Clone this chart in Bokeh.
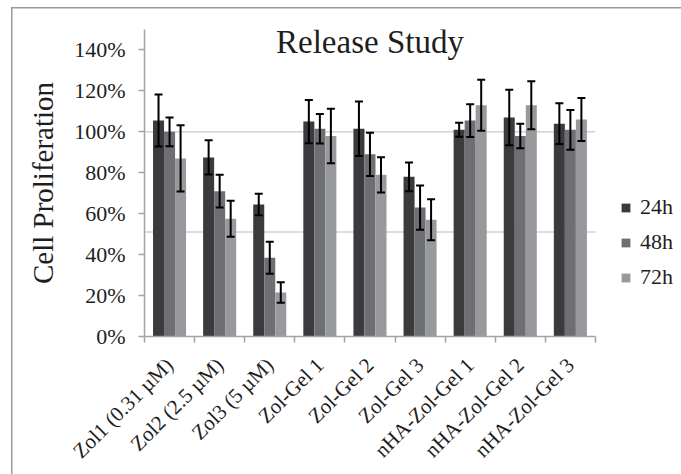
from bokeh.plotting import figure
from bokeh.models import (ColumnDataSource, Range1d, FixedTicker, PrintfTickFormatter,
                          Whisker, TeeHead, Legend, LegendItem, Label)
from bokeh.embed import file_html
from bokeh.resources import INLINE

# ---- data -------------------------------------------------------------
categories = ["Zol1 (0.31 \u00b5M)", "Zol2 (2.5 \u00b5M)", "Zol3 (5 \u00b5M)",
              "Zol-Gel 1", "Zol-Gel 2", "Zol-Gel 3",
              "nHA-Zol-Gel 1", "nHA-Zol-Gel 2", "nHA-Zol-Gel 3"]
series = ["24h", "48h", "72h"]

mean_24h = [105.5, 87.5, 64.5, 105.0, 101.5, 78.0, 101.0, 107.0, 104.0]
mean_48h = [100.0, 71.0, 38.5, 101.5, 89.0, 63.0, 105.5, 98.0, 101.0]
mean_72h = [87.0, 57.5, 21.5, 98.0, 79.0, 57.0, 113.0, 113.0, 106.0]

err_24h = [12.7, 8.4, 5.2, 10.6, 13.3, 7.0, 3.4, 13.6, 10.0]
err_48h = [7.0, 8.0, 7.8, 7.2, 10.6, 10.8, 8.0, 6.0, 9.7]
err_72h = [16.2, 8.8, 5.0, 13.3, 8.6, 10.0, 12.5, 11.7, 10.5]

y_ticks = [0, 20, 40, 60, 80, 100, 120, 140]
reference_lines = [100, 51]

# ---- styling ----------------------------------------------------------
SERIF = "Liberation Serif"
TEXT = "#1e1e1e"
AXIS = "#a3a3a3"
BORDER = "#9a9a9a"
colors = ["#3b3b3d", "#6e6f72", "#98999c"]
offsets = [-0.22, 0.0, 0.22]
bar_w = 0.22

n = len(categories)
x_lo, x_hi = -0.5, n - 0.5
# the frame runs on to the right edge so the legend sits inside it;
# the axis itself is bounded to the categories
x_right = x_hi + 85 / 50.06

p = figure(width=681, height=474, output_backend="svg", toolbar_location=None,
           x_range=Range1d(x_lo, x_right), y_range=Range1d(0, 150),
           min_border_left=144, min_border_right=1,
           min_border_top=29, min_border_bottom=137)
p.outline_line_color = None
p.background_fill_color = "white"
# transparent outside the plot area so the chart-area border below shows through
p.border_fill_color = None
p.styles = {
    "background": (
        f"linear-gradient({BORDER}, {BORDER}) 11px 7px / 1.5px 100% no-repeat, "
        f"linear-gradient({BORDER}, {BORDER}) 11px 7px / 100% 1.5px no-repeat, "
        "white"
    )
}
p.xgrid.visible = False
p.ygrid.visible = False

# horizontal reference lines behind the bars
p.segment(x0=[x_lo] * len(reference_lines), x1=[x_hi] * len(reference_lines),
          y0=reference_lines, y1=reference_lines,
          line_color="#d2d2d2", line_width=1.5)

means = [mean_24h, mean_48h, mean_72h]
errs = [err_24h, err_48h, err_72h]
items = []
for k, name in enumerate(series):
    xs = [i + offsets[k] for i in range(n)]
    src = ColumnDataSource(dict(
        x=xs, top=means[k],
        upper=[m + e for m, e in zip(means[k], errs[k])],
        lower=[m - e for m, e in zip(means[k], errs[k])],
    ))
    r = p.vbar(x="x", top="top", width=bar_w, bottom=0, source=src,
               fill_color=colors[k], line_color=None)
    items.append(LegendItem(label=name, renderers=[r]))
    w = Whisker(base="x", upper="upper", lower="lower", source=src,
                dimension="height", line_color="black", line_width=2,
                upper_head=TeeHead(size=8, line_color="black", line_width=2),
                lower_head=TeeHead(size=8, line_color="black", line_width=2),
                level="overlay")
    p.add_layout(w)

# ---- axes -------------------------------------------------------------
xa = p.xaxis[0]
xa.bounds = (x_lo, x_hi)
xa.ticker = FixedTicker(ticks=list(range(n)),
                        minor_ticks=[i - 0.5 for i in range(n + 1)])
xa.major_label_overrides = {i: c for i, c in enumerate(categories)}
xa.major_label_orientation = 0.785398
xa.major_tick_out = 0
xa.major_tick_in = 0
xa.minor_tick_out = 6
xa.minor_tick_in = 0
xa.minor_tick_line_color = AXIS
xa.minor_tick_line_width = 1.5
xa.axis_line_color = AXIS
xa.axis_line_width = 1.5
xa.major_label_text_font = SERIF
xa.major_label_text_font_size = "21px"
xa.major_label_text_color = TEXT
xa.major_label_standoff = 19

ya = p.yaxis[0]
ya.ticker = FixedTicker(ticks=y_ticks)
ya.formatter = PrintfTickFormatter(format="%d%%")
ya.major_tick_out = 6
ya.major_tick_in = 0
ya.minor_tick_out = 0
ya.minor_tick_in = 0
ya.major_tick_line_color = AXIS
ya.major_tick_line_width = 1.5
ya.axis_line_color = AXIS
ya.axis_line_width = 1.5
ya.major_label_text_font = SERIF
ya.major_label_text_font_size = "22px"
ya.major_label_text_color = TEXT
ya.major_label_standoff = 13
ya.axis_label = "Cell Proliferation"
ya.axis_label_text_font = SERIF
ya.axis_label_text_font_size = "29px"
ya.axis_label_text_font_style = "normal"
ya.axis_label_text_color = TEXT
ya.axis_label_standoff = 12

# ---- title inside the plot area ---------------------------------------
p.add_layout(Label(x=(x_lo + x_hi) / 2, y=144, text="Release Study",
                   text_align="center", text_baseline="alphabetic",
                   text_font=SERIF, text_font_size="33px", text_color=TEXT))

# ---- legend to the right of the bars ----------------------------------
legend = Legend(items=items, location=(476, 46), orientation="vertical",
                glyph_width=11, glyph_height=11, label_height=20,
                spacing=9, padding=0, margin=0, label_standoff=9,
                label_text_font=SERIF, label_text_font_size="22px",
                label_text_color=TEXT, border_line_color=None,
                background_fill_alpha=0)
p.add_layout(legend, "center")

open("out.html", "w").write(file_html(p, INLINE))
